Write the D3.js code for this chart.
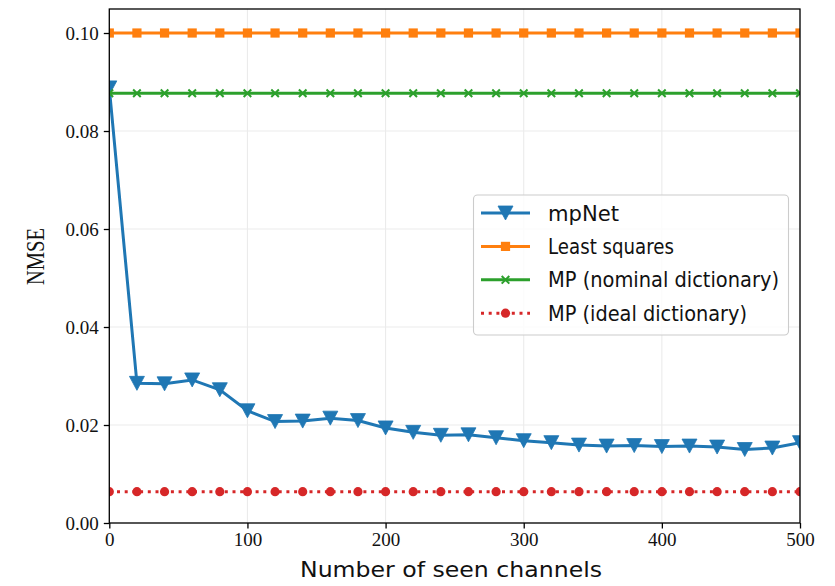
<!DOCTYPE html>
<html>
<head>
<meta charset="utf-8">
<script src="https://cdn.jsdelivr.net/npm/d3@7"></script>
<style>
  html, body { margin: 0; padding: 0; background: #fff; }
  svg { display: block; }
</style>
</head>
<body>
<div id="chart"></div>
<script>
// Number of seen channels (x) and NMSE per method
const seenChannels = [0, 20, 40, 60, 80, 100, 120, 140, 160, 180, 200, 220, 240,
  260, 280, 300, 320, 340, 360, 380, 400, 420, 440, 460, 480, 500];
const mpNet = [0.0888, 0.0285, 0.0284, 0.0292, 0.0272, 0.0229, 0.0207, 0.0208,
  0.0214, 0.0209, 0.0194, 0.0185, 0.0179, 0.0180, 0.0174, 0.0168, 0.0164,
  0.0159, 0.0157, 0.0158, 0.0156, 0.0157, 0.0155, 0.0150, 0.0153, 0.0164];
const leastSquares = seenChannels.map(() => 0.100);
const mpNominal = seenChannels.map(() => 0.0877);
const mpIdeal = seenChannels.map(() => 0.0064);

const xTicks = [0, 100, 200, 300, 400, 500];
const yTicks = [0.00, 0.02, 0.04, 0.06, 0.08, 0.10];
const seriesNames = ["mpNet", "Least squares", "MP (nominal dictionary)", "MP (ideal dictionary)"];

const W = 835, H = 586;
const plot = { left: 109.3, right: 800, top: 9, bottom: 523 };

const svg = d3.select("#chart").append("svg").attr("width", W).attr("height", H);

const x = d3.scaleLinear().domain([0, 500]).range([plot.left, plot.right]);
const y = d3.scaleLinear().domain([0, 0.1049]).range([plot.bottom, plot.top]);

const serif = "'Liberation Serif', 'DejaVu Serif', serif";
const sans = "'DejaVu Sans', 'Open Sans', sans-serif";

// grid
const grid = svg.append("g").attr("stroke", "#ebebeb").attr("stroke-width", 1.1);
xTicks.forEach(t => grid.append("line").attr("x1", x(t)).attr("x2", x(t))
  .attr("y1", plot.top).attr("y2", plot.bottom));
yTicks.forEach(t => grid.append("line").attr("x1", plot.left).attr("x2", plot.right)
  .attr("y1", y(t)).attr("y2", y(t)));

svg.append("clipPath").attr("id", "clip").append("rect")
  .attr("x", plot.left).attr("y", plot.top)
  .attr("width", plot.right - plot.left).attr("height", plot.bottom - plot.top);

// marker shapes
function triDown(g, cx, cy, color) {
  const w = 7.5, h = 7;
  g.append("path").attr("d", `M${cx - w},${cy - h}L${cx + w},${cy - h}L${cx},${cy + h}Z`)
    .attr("fill", color).attr("stroke", color).attr("stroke-width", 0.8);
}
function square(g, cx, cy, color) {
  g.append("rect").attr("x", cx - 4.6).attr("y", cy - 4.6).attr("width", 9.2).attr("height", 9.2)
    .attr("fill", color);
}
function cross(g, cx, cy, color) {
  const s = 3.8;
  g.append("path").attr("d", `M${cx - s},${cy - s}L${cx + s},${cy + s}M${cx - s},${cy + s}L${cx + s},${cy - s}`)
    .attr("stroke", color).attr("stroke-width", 2).attr("fill", "none");
}
function dot(g, cx, cy, color) {
  g.append("circle").attr("cx", cx).attr("cy", cy).attr("r", 4.6).attr("fill", color);
}

const series = [
  { name: seriesNames[0], values: mpNet, color: "#1f77b4", marker: triDown, dash: null },
  { name: seriesNames[1], values: leastSquares, color: "#ff7f0e", marker: square, dash: null },
  { name: seriesNames[2], values: mpNominal, color: "#2ca02c", marker: cross, dash: null },
  { name: seriesNames[3], values: mpIdeal, color: "#d62728", marker: dot, dash: "3,4.7" }
];

const lineGen = d3.line().x((d, i) => x(seenChannels[i])).y(d => y(d));
const plotG = svg.append("g").attr("clip-path", "url(#clip)");
series.forEach(s => {
  const g = plotG.append("g");
  g.append("path").attr("d", lineGen(s.values)).attr("fill", "none")
    .attr("stroke", s.color).attr("stroke-width", 3)
    .attr("stroke-dasharray", s.dash);
  s.values.forEach((v, i) => s.marker(g, x(seenChannels[i]), y(v), s.color));
});

// spines
svg.append("rect").attr("x", plot.left).attr("y", plot.top)
  .attr("width", plot.right - plot.left).attr("height", plot.bottom - plot.top)
  .attr("fill", "none").attr("stroke", "#000").attr("stroke-width", 1.3);

// axes
const xAxis = svg.append("g").attr("transform", `translate(0,${plot.bottom})`)
  .call(d3.axisBottom(x).tickValues(xTicks).tickFormat(d3.format("d")).tickSize(5.5).tickPadding(4));
const yAxis = svg.append("g").attr("transform", `translate(${plot.left},0)`)
  .call(d3.axisLeft(y).tickValues(yTicks).tickFormat(d3.format(".2f")).tickSize(5.5).tickPadding(5));
[xAxis, yAxis].forEach(a => {
  a.select(".domain").remove();
  a.selectAll(".tick line").attr("stroke", "#000").attr("stroke-width", 1.3);
  a.selectAll(".tick text").attr("font-family", serif).attr("font-size", 19).attr("fill", "#111");
});

// axis titles
svg.append("text").attr("x", 451).attr("y", 577).attr("text-anchor", "middle")
  .attr("font-family", sans).attr("font-size", 21.5).attr("fill", "#111")
  .attr("textLength", 302).attr("lengthAdjust", "spacingAndGlyphs")
  .text("Number of seen channels");
svg.append("text").attr("transform", "translate(44,256.5) rotate(-90)")
  .attr("text-anchor", "middle").attr("font-family", serif).attr("font-size", 25)
  .attr("fill", "#111").attr("textLength", 57).attr("lengthAdjust", "spacingAndGlyphs")
  .text("NMSE");

// legend
const legend = svg.append("g");
legend.append("rect").attr("x", 473.5).attr("y", 195).attr("width", 315).attr("height", 140)
  .attr("rx", 4).attr("fill", "#fff").attr("fill-opacity", 0.8)
  .attr("stroke", "#cccccc").attr("stroke-width", 1.1);
const legendWidths = [71, 126, 231, 199];
series.forEach((s, i) => {
  const cy = 213 + i * 33.4;
  const g = legend.append("g");
  g.append("line").attr("x1", 481).attr("x2", 530).attr("y1", cy).attr("y2", cy)
    .attr("stroke", s.color).attr("stroke-width", 3).attr("stroke-dasharray", s.dash);
  s.marker(g, 505.5, cy, s.color);
  g.append("text").attr("x", 548).attr("y", cy + 7.5)
    .attr("font-family", sans).attr("font-size", 21.5).attr("fill", "#111")
    .attr("textLength", legendWidths[i]).attr("lengthAdjust", "spacingAndGlyphs")
    .text(s.name);
});
</script>
</body>
</html>
